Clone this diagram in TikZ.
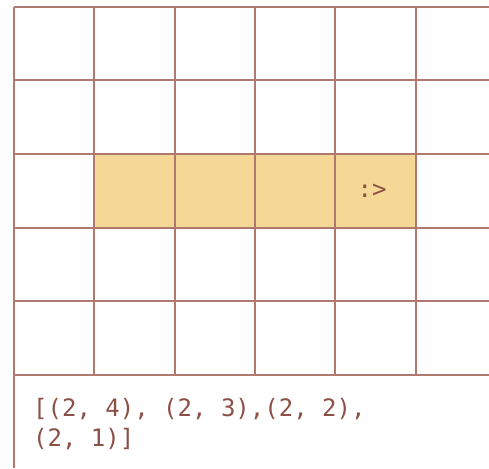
\documentclass[tikz,border=0pt]{standalone}
\usepackage{fontspec}
\setmonofont{DejaVu Sans Mono}
\definecolor{gridline}{RGB}{176,120,110}
\definecolor{snakefill}{RGB}{245,215,150}
\definecolor{textbrown}{RGB}{140,80,70}
\tikzset{
  cellline/.style={draw=gridline, line width=2pt},
  snakecell/.style={fill=snakefill},
  monotext/.style={font=\ttfamily\fontsize{24}{30}\selectfont, text=textbrown, inner sep=0pt}
}
\begin{document}
\begin{tikzpicture}[x=1pt,y=-1pt]
  \useasboundingbox (0,0) rectangle (489,468);
  % body of the snake
  \fill[snakecell] (94,154) rectangle (416,228);
  % grid
  \foreach \y in {7,80,154,228,301,375}
    \draw[cellline] (14,\y) -- (489,\y);
  \foreach \x in {94,175,255,335,416}
    \draw[cellline] (\x,7) -- (\x,375);
  \draw[cellline] (14,7) -- (14,468);
  % head
  \node[monotext] (head) at (372,191) {:>};
  % list of snake cells
  \node[monotext, anchor=north west, align=left] (path) at (33,398) {[(2, 4), (2, 3),(2, 2),\\(2, 1)]};
\end{tikzpicture}
\end{document}
